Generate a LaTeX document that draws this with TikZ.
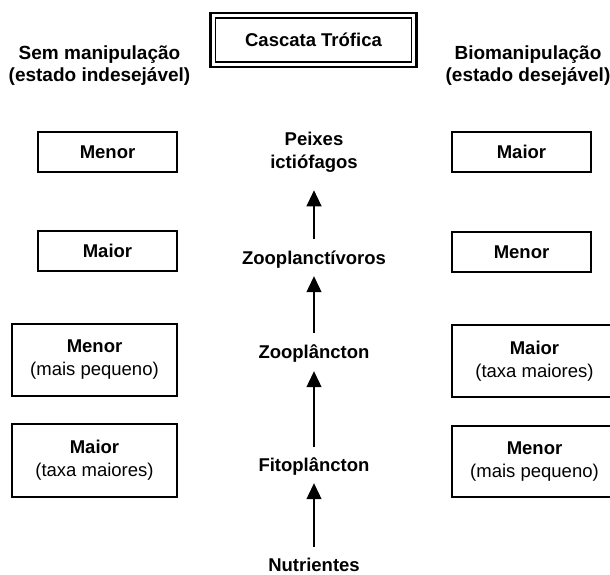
\documentclass[tikz,border=0pt]{standalone}
\usepackage{fontspec}
\setmainfont{Liberation Sans}
\usetikzlibrary{arrows.meta}
\newcommand\diagfs{\fontsize{18.5pt}{23pt}\selectfont}
\newcommand\hdrfs{\fontsize{19pt}{22pt}\selectfont}
\tikzset{
  lbl/.style={font=\diagfs\bfseries, inner sep=0pt, text height=13.5pt, text depth=4pt, anchor=base},
  hdr/.style={font=\hdrfs\bfseries, inner sep=0pt, align=center, anchor=north},
  sbox/.style={draw, line width=1.2pt, inner sep=0pt, align=center, font=\diagfs},
  narrow/.style={sbox, minimum width=139pt, minimum height=40pt},
  wide/.style={sbox, minimum width=165pt, minimum height=72pt},
  titlebox/.style={draw, line width=1.7pt, outer sep=0pt, minimum width=196pt, minimum height=44pt, inner sep=0pt, font=\diagfs\bfseries, text height=13.2pt, text depth=0pt},
  frame/.style={draw, line width=2.3pt},
  arr/.style={line width=1.2pt, -{Triangle[width=15pt,length=16pt]}}
}
\begin{document}
\begin{tikzpicture}[x=1pt,y=-1pt]
\useasboundingbox (0,0) rectangle (610,574);
% title
\node[titlebox] (title) at (313.5,40) {Cascata Trófica};
\draw[frame] ([shift={(-5,-5)}]title.north west) rectangle ([shift={(5,5)}]title.south east);
% headers
\node[hdr] (hl) at (99.5,45.5) {Sem manipulação\\(estado indesejável)};
\node[hdr] (hr) at (528,45.5) {Biomanipulação\\(estado desejável)};
% centre column
\node[font=\diagfs\bfseries, inner sep=0pt, align=center, anchor=north] (pi) at (314,132) {Peixes\\ictiófagos};
\node[lbl] (zpv) at (314,264.5) {Zooplanctívoros};
\node[lbl] (zpl) at (314,358.5) {Zooplâncton};
\node[lbl] (fito) at (314,471.5) {Fitoplâncton};
\node[lbl, text depth=1pt] (nut) at (314,571) {Nutrientes};
\draw[arr, shorten <=12pt, shorten >=17.6pt] (zpv.north) -- (pi.south);
\draw[arr, shorten <=12pt, shorten >=7.5pt] (zpl.north) -- (zpv.south);
\draw[arr, shorten <=11pt, shorten >=8.5pt] (fito.north) -- (zpl.south);
\draw[arr, shorten <=10.5pt, shorten >=7.5pt] (nut.north) -- (fito.south);
% left column
\node[narrow] (l1) at (107.5,152) {\textbf{Menor}};
\node[narrow] (l2) at (107.5,251) {\textbf{Maior}};
\node[wide] (l3) at (94.5,360) {\textbf{Menor}\\(mais pequeno)};
\node[wide, minimum height=73pt] (l4) at (94.5,460.5) {\textbf{Maior}\\(taxa maiores)};
% right column
\node[narrow] (r1) at (521.5,152) {\textbf{Maior}};
\node[narrow] (r2) at (521.5,252) {\textbf{Menor}};
\node[wide] (r3) at (534.5,361) {\textbf{Maior}\\(taxa maiores)};
\node[wide, minimum height=71pt] (r4) at (534.5,461.5) {\textbf{Menor}\\(mais pequeno)};
\end{tikzpicture}
\end{document}
